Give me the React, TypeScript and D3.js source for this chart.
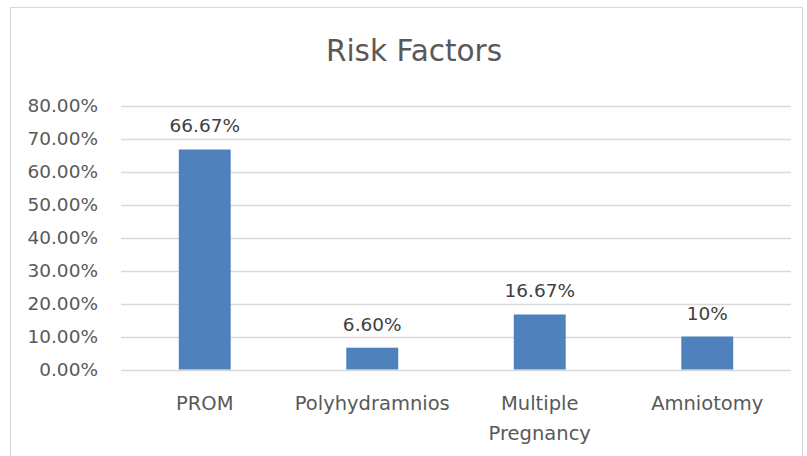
import React, { useRef, useEffect } from 'react';
import * as d3 from 'd3';

const categories = ['PROM', 'Polyhydramnios', 'Multiple Pregnancy', 'Amniotomy'];
const values = [66.67, 6.6, 16.67, 10];
const valueLabels = ['66.67%', '6.60%', '16.67%', '10%'];
const yTicks = [0, 10, 20, 30, 40, 50, 60, 70, 80];

const FONT = '"DejaVu Sans", sans-serif';

const App = () => {
  const svgRef = useRef(null);

  useEffect(() => {
    const svg = d3.select(svgRef.current);
    svg.selectAll('*').remove();

    const plot = { left: 121, right: 791, top: 105.5, bottom: 369.5 };

    // chart frame
    svg.append('rect')
      .attr('x', 10.5).attr('y', 7.5)
      .attr('width', 792).attr('height', 470)
      .attr('fill', '#fff')
      .attr('stroke', '#d9d9d9');

    svg.append('text')
      .attr('x', 414).attr('y', 61)
      .attr('text-anchor', 'middle')
      .attr('font-family', FONT)
      .attr('font-size', 29.5)
      .attr('fill', '#595959')
      .text('Risk Factors');

    const x = d3.scaleBand()
      .domain(categories)
      .range([plot.left, plot.right])
      .paddingInner(0.69)
      .paddingOuter(0.345);

    const y = d3.scaleLinear()
      .domain([0, 80])
      .range([plot.bottom, plot.top]);

    // gridlines
    svg.append('g')
      .selectAll('line')
      .data(yTicks)
      .enter().append('line')
      .attr('x1', plot.left).attr('x2', plot.right)
      .attr('y1', d => Math.round(y(d)) + 0.5)
      .attr('y2', d => Math.round(y(d)) + 0.5)
      .attr('stroke', '#d9d9d9')
      .attr('stroke-width', 1.3);

    // y labels
    svg.append('g')
      .selectAll('text')
      .data(yTicks)
      .enter().append('text')
      .attr('x', 98)
      .attr('y', d => y(d) + 6.8)
      .attr('text-anchor', 'end')
      .attr('font-family', FONT)
      .attr('font-size', 18.5)
      .attr('fill', '#595959')
      .text(d => d.toFixed(2) + '%');

    // bars
    svg.append('g')
      .selectAll('rect')
      .data(values)
      .enter().append('rect')
      .attr('x', (d, i) => x(categories[i]))
      .attr('y', d => y(d))
      .attr('width', x.bandwidth())
      .attr('height', d => y(0) - y(d))
      .attr('fill', '#4f81bd');

    // data labels
    svg.append('g')
      .selectAll('text')
      .data(values)
      .enter().append('text')
      .attr('x', (d, i) => x(categories[i]) + x.bandwidth() / 2)
      .attr('y', d => y(d) - 17)
      .attr('text-anchor', 'middle')
      .attr('font-family', FONT)
      .attr('font-size', 18.5)
      .attr('fill', '#404040')
      .text((d, i) => valueLabels[i]);

    // category labels, wrapped like Excel does
    const xl = svg.append('g');
    categories.forEach(c => {
      const lines = c === 'Multiple Pregnancy' ? ['Multiple', 'Pregnancy'] : [c];
      const cx = x(c) + x.bandwidth() / 2;
      lines.forEach((line, j) => {
        xl.append('text')
          .attr('x', cx)
          .attr('y', 410 + j * 30)
          .attr('text-anchor', 'middle')
          .attr('font-family', FONT)
          .attr('font-size', 19.5)
          .attr('fill', '#595959')
          .text(line);
      });
    });
  }, []);

  return (
    <svg
      ref={svgRef}
      width={807}
      height={456}
      style={{ position: 'absolute', left: 0, top: 0 }}
    />
  );
};

export default App;
